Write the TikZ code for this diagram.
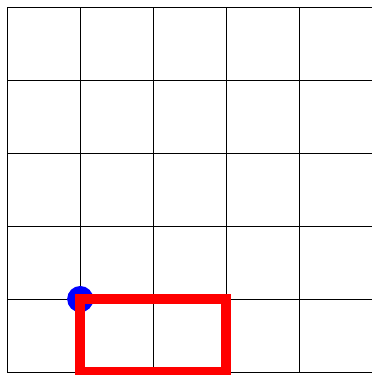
\documentclass[tikz,border=0pt]{standalone}
\begin{document}
\begin{tikzpicture}[x=1cm,y=1cm,
  gridline/.style={black,line width=0.4pt},
  marker/.style={fill=blue,draw=none},
  frame/.style={draw=red,line width=4pt}]
\useasboundingbox (-0.1,-0.04) rectangle (4.995,5.1);
\draw[gridline,step=1] (0,0) grid (5,5);
\fill[marker] (1,1) circle (0.18);
\draw[frame] (1,0) rectangle (3,1);
\end{tikzpicture}
\end{document}
